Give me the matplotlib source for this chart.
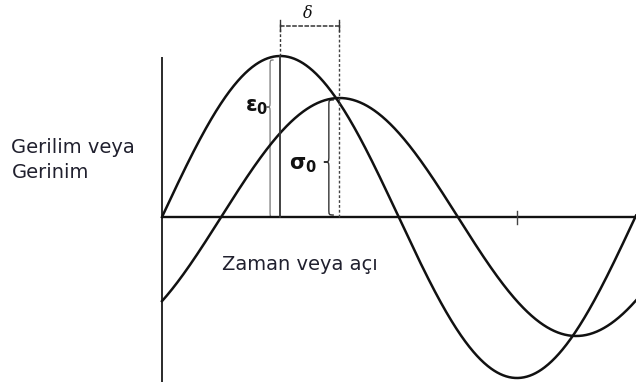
import numpy as np
import matplotlib.pyplot as plt
from matplotlib.path import Path
from matplotlib.patches import PathPatch

# Wave parameters (phase angle in degrees, amplitudes in arbitrary units)
strain_amp = 1.61      # ε0
stress_amp = 1.19      # σ0
phase_lag = 45.0       # δ
angle_end = 360.5
tick_angles = [270]

y_label = "Gerilim veya\nGerinim"
x_label = "Zaman veya açı"

fig = plt.figure(figsize=(6.36, 3.85), dpi=100)
ax = fig.add_axes([0, 0, 1, 1])
ax.set_xlim(-123.2, 360.5)
ax.set_ylim(-1.68, 2.17)
ax.axis("off")

ink = "#111111"

# axes
ax.plot([0, 0], [1.60, -1.65], color="#2a2a2a", lw=1.4, solid_capstyle="butt")
ax.plot([0, angle_end], [0, 0], color=ink, lw=1.7, solid_capstyle="butt")
for t in tick_angles:
    ax.plot([t, t], [0.06, -0.07], color="#444444", lw=1.0)

# strain and stress waves
theta = np.linspace(0, angle_end, 800)
strain = strain_amp * np.sin(np.radians(theta))
stress = stress_amp * np.sin(np.radians(theta - phase_lag))
ax.plot(theta, strain, color=ink, lw=1.8)
ax.plot(theta, stress, color=ink, lw=1.8)

# reference lines through the peaks
peak_e = 90.0
peak_s = 90.0 + phase_lag
top = 1.95
ax.plot([peak_e, peak_e], [0, strain_amp], color="#333333", lw=1.3)
ax.plot([peak_e, peak_e], [strain_amp, top], color="#333333", lw=1.0,
        ls=(0, (2, 1.5)))
ax.plot([peak_s, peak_s], [0, top], color="#444444", lw=1.0,
        ls=(0, (2, 1.5)))

# dimension line for the phase lag
ax.plot([peak_e, peak_s], [1.91, 1.91], color="#333333", lw=1.1,
        ls=(0, (3, 1)))
for xx in (peak_e, peak_s):
    ax.plot([xx, xx], [1.97, 1.86], color="#333333", lw=1.0)
ax.text((peak_e + peak_s) / 2 - 2, 2.03, "δ", fontsize=11.5, style="italic",
        family="DejaVu Serif", ha="center", va="center", color=ink)


def brace(x_right, x_nose, y_top, y_bot, y_nose, color, lw):
    xm = (x_right + x_nose) / 2
    c = 0.06
    verts = [
        (x_right, y_top),
        (xm, y_top), (xm, y_top), (xm, y_top - c),
        (xm, y_nose + c),
        (xm, y_nose), (xm, y_nose), (x_nose, y_nose),
        (xm, y_nose), (xm, y_nose), (xm, y_nose - c),
        (xm, y_bot + c),
        (xm, y_bot), (xm, y_bot), (x_right, y_bot),
    ]
    codes = [Path.MOVETO,
             Path.CURVE4, Path.CURVE4, Path.CURVE4,
             Path.LINETO,
             Path.CURVE4, Path.CURVE4, Path.CURVE4,
             Path.CURVE4, Path.CURVE4, Path.CURVE4,
             Path.LINETO,
             Path.CURVE4, Path.CURVE4, Path.CURVE4]
    ax.add_patch(PathPatch(Path(verts, codes), fill=False, ec=color, lw=lw))


brace(84.9, 79.5, 1.57, 0.0, 1.10, "#777777", 0.9)
brace(130.7, 123.1, 1.17, 0.02, 0.55, "#333333", 1.0)

ax.text(71.9, 1.10, r"$\mathbf{ε}_\mathbf{0}$", fontsize=15, ha="center",
        va="center", color=ink)
ax.text(107.0, 0.52, r"$\mathbf{σ}_\mathbf{0}$", fontsize=15, ha="center",
        va="center", color=ink)

# axis captions
txt_color = "#20202e"
ax.text(-114.5, 0.57, y_label, fontsize=14, family="DejaVu Sans",
        ha="left", va="center", color=txt_color, linespacing=1.36)
ax.text(46.0, -0.48, x_label, fontsize=14, family="DejaVu Sans",
        ha="left", va="center", color=txt_color)

fig.savefig("out.png", dpi=100, facecolor="white")
